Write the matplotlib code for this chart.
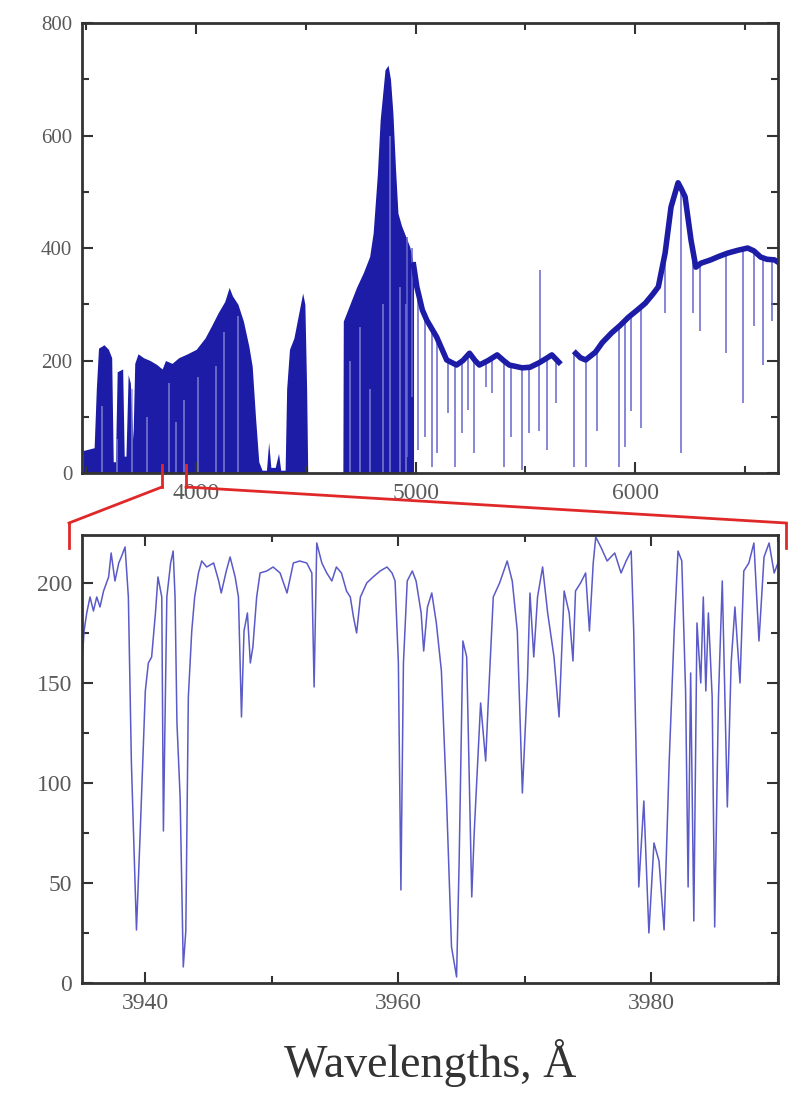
import numpy as np
import matplotlib.pyplot as plt
from matplotlib.lines import Line2D
from matplotlib.ticker import MultipleLocator

plt.rcParams['font.family'] = ['Liberation Serif', 'DejaVu Serif']

# ---- top panel: full spectrum ----
# dense blue region (blue end), upper envelope
blue_wl = [3485, 3535, 3545, 3555, 3580, 3600, 3615, 3622, 3632, 3640, 3665, 3672,
           3680, 3690, 3700, 3712, 3720, 3735, 3760, 3790, 3820, 3845, 3860, 3890,
           3920, 3960, 4000, 4040, 4070, 4100, 4130, 4150, 4165, 4190, 4215, 4240,
           4255, 4270, 4285, 4300, 4320, 4330, 4340, 4360, 4375, 4385, 4405, 4412,
           4425, 4445, 4465, 4485, 4495, 4503, 4508]
blue_flux = [40, 45, 150, 222, 228, 220, 205, 20, 20, 180, 185, 30,
             30, 175, 160, 60, 195, 212, 205, 200, 193, 185, 200, 195,
             205, 212, 220, 240, 262, 285, 305, 330, 315, 300, 270, 225,
             190, 100, 20, 5, 5, 55, 10, 10, 35, 5, 5, 150,
             220, 240, 280, 320, 300, 150, 0]

# H-beta core (dense)
hb_wl = [4668, 4670, 4700, 4730, 4761, 4790, 4806, 4825, 4838, 4860, 4874, 4885,
         4896, 4908, 4919, 4935, 4950, 4973, 4990]
hb_flux = [0, 270, 300, 330, 356, 385, 427, 530, 628, 717, 725, 700,
           640, 540, 462, 440, 425, 402, 370]

# continuum after H-beta
red1_wl = [4990, 5005, 5030, 5050, 5095, 5141, 5186, 5215, 5245, 5270,
           5290, 5330, 5371, 5400, 5426, 5485, 5520, 5562, 5600, 5620, 5652]
red1_flux = [370, 331, 290, 272, 242, 201, 192, 200, 213, 200,
             192, 200, 210, 200, 192, 187, 188, 196, 205, 210, 197]

red2_wl = [5729, 5750, 5774, 5819, 5850, 5892, 5930, 5969, 6010, 6046, 6080, 6105,
           6136, 6163, 6195, 6210, 6227, 6254, 6276, 6299, 6344, 6380, 6421, 6467,
           6512, 6540, 6571, 6600, 6634, 6650]
red2_flux = [213, 205, 201, 215, 232, 249, 262, 277, 290, 302, 318, 331,
             391, 473, 516, 505, 491, 414, 366, 373, 379, 385, 391, 396,
             400, 395, 384, 380, 379, 375]

# absorption lines: wavelength, continuum level, line bottom
abs_wl = [4960, 4982, 5009, 5041, 5073, 5095, 5145, 5177, 5209, 5236, 5267, 5322,
          5349, 5403, 5435, 5485, 5516, 5562, 5598, 5638, 5720, 5774, 5824, 5924,
          5955, 5982, 6028, 6136, 6209, 6263, 6295, 6412, 6489, 6543, 6580, 6625]
abs_top = [420, 400, 330, 280, 260, 242, 200, 195, 198, 210, 200, 198,
           205, 200, 192, 187, 188, 196, 205, 205, 215, 201, 216, 260,
           272, 282, 296, 391, 505, 395, 372, 390, 398, 397, 383, 379]
abs_bot = [28, 135, 41, 64, 11, 36, 107, 11, 71, 112, 36, 153,
           142, 11, 64, 5, 71, 75, 41, 124, 11, 11, 75, 11,
           46, 110, 80, 284, 36, 284, 253, 213, 124, 261, 192, 270]

# light streaks inside the dense regions
streak_wl = [3570, 3638, 3706, 3774, 3874, 3910, 3946, 4009, 4091, 4127, 4190,
             4700, 4745, 4790, 4850, 4883, 4930, 4955]
streak_top = [120, 60, 150, 100, 160, 90, 130, 170, 190, 250, 280,
              200, 260, 150, 300, 600, 330, 300]

# sky emission spike
spike_wl = [5566]
spike_bot = [196]
spike_top = [361]

# ---- bottom panel: zoom 3935-3990 A ----
zoom_wl = [3935.05, 3935.16, 3935.37, 3935.63, 3935.9, 3936.16, 3936.42, 3936.7, 3937.1, 3937.3,
           3937.6, 3937.9, 3938.1, 3938.4, 3938.66, 3938.9, 3939.3, 3939.6, 3940.0, 3940.24,
           3940.5, 3940.8, 3941.0, 3941.3, 3941.43, 3941.7, 3942.0, 3942.2, 3942.35, 3942.5,
           3942.75, 3943.0, 3943.2, 3943.4, 3943.67, 3943.9, 3944.2, 3944.46, 3944.85, 3945.4,
           3945.8, 3946.0, 3946.4, 3946.7, 3947.1, 3947.36, 3947.6, 3947.8, 3948.07, 3948.3,
           3948.5, 3948.8, 3949.07, 3949.6, 3950.1, 3950.65, 3951.2, 3951.7, 3952.2, 3952.76,
           3953.16, 3953.34, 3953.55, 3953.95, 3954.34, 3954.74, 3955.1, 3955.5, 3955.9, 3956.2,
           3956.45, 3956.7, 3957.0, 3957.5, 3958.0, 3958.56, 3959.1, 3959.5, 3959.74, 3960.0,
           3960.2, 3960.4, 3960.7, 3961.1, 3961.4, 3961.8, 3962.0, 3962.3, 3962.64, 3963.0,
           3963.4, 3963.8, 3964.2, 3964.6, 3964.8, 3965.1, 3965.4, 3965.8, 3966.0, 3966.5,
           3966.9, 3967.1, 3967.5, 3968.0, 3968.6, 3969.0, 3969.4, 3969.8, 3970.2, 3970.4,
           3970.7, 3971.0, 3971.4, 3971.8, 3972.3, 3972.7, 3973.1, 3973.5, 3973.8, 3974.0,
           3974.4, 3974.8, 3975.1, 3975.4, 3975.6, 3976.0, 3976.5, 3977.1, 3977.6, 3978.0,
           3978.4, 3978.6, 3979.0, 3979.4, 3979.8, 3980.2, 3980.6, 3981.0, 3981.4, 3981.8,
           3982.1, 3982.4, 3982.7, 3982.9, 3983.1, 3983.35, 3983.6, 3983.9, 3984.1, 3984.3,
           3984.5, 3984.8, 3985.0, 3985.3, 3985.6, 3986.0, 3986.3, 3986.6, 3987.0, 3987.3,
           3987.7, 3988.1, 3988.5, 3988.9, 3989.3, 3989.7, 3990.0]
zoom_flux = [165, 176, 185, 193, 186, 193, 188, 196, 203, 215,
             201, 210, 213, 218, 193, 110, 26.5, 76, 146, 160,
             163, 185, 203, 193, 76, 193, 210, 216, 193, 130,
             93, 8, 26, 143, 176, 193, 205, 211, 208, 210,
             201, 195, 206, 213, 203, 193, 133, 176, 185, 160,
             168, 193, 205, 206, 208, 205, 195, 210, 211, 210,
             205, 148, 220, 210, 205, 201, 208, 205, 196, 193,
             183, 175, 193, 200, 203, 206, 208, 205, 201, 160,
             46.5, 160, 201, 206, 201, 185, 166, 188, 195, 180,
             156, 93, 18, 3, 60, 171, 163, 43, 76, 140,
             111, 140, 193, 200, 211, 201, 176, 95, 151, 195,
             163, 193, 208, 185, 163, 133, 196, 185, 161, 196,
             200, 205, 176, 210, 223, 218, 211, 215, 205, 211,
             216, 176, 48, 91, 25, 70, 61, 26.5, 110, 176,
             216, 211, 146, 48, 155, 31, 180, 150, 193, 146,
             185, 143, 28, 143, 201, 88, 160, 188, 150, 206,
             210, 220, 171, 213, 220, 205, 210]

dark = '#1c1ca6'
light = '#6767cf'
gray = '#5a5a5a'

fig = plt.figure(figsize=(7.89, 10.99), dpi=100)
ax1 = fig.add_axes([0.104, 0.5696, 0.882, 0.4094])
ax2 = fig.add_axes([0.104, 0.1056, 0.882, 0.4076])

ax1.fill_between(blue_wl, 0, blue_flux, color=dark, lw=0)
ax1.fill_between(hb_wl, 0, hb_flux, color=dark, lw=0)
ax1.vlines(streak_wl, 0, streak_top, color='#8c8cdc', lw=1.2, alpha=0.8)
ax1.vlines(abs_wl, abs_bot, abs_top, color=light, lw=1.3, alpha=0.85)
ax1.vlines(spike_wl, spike_bot, spike_top, color=light, lw=1.3, alpha=0.85)
ax1.plot(red1_wl, red1_flux, color=dark, lw=4)
ax1.plot(red2_wl, red2_flux, color=dark, lw=4)
ax1.set_xlim(3480, 6650)
ax1.set_ylim(0, 800)
ax1.xaxis.set_major_locator(MultipleLocator(1000))
ax1.xaxis.set_minor_locator(MultipleLocator(500))
ax1.yaxis.set_major_locator(MultipleLocator(200))
ax1.yaxis.set_minor_locator(MultipleLocator(100))

ax2.plot(zoom_wl, zoom_flux, color='#5a5ac8', lw=1.1)
ax2.set_xlim(3935, 3990)
ax2.set_ylim(0, 224)
ax2.xaxis.set_major_locator(MultipleLocator(20))
ax2.xaxis.set_minor_locator(MultipleLocator(10))
ax2.yaxis.set_major_locator(MultipleLocator(50))
ax2.yaxis.set_minor_locator(MultipleLocator(25))

for ax in (ax1, ax2):
    ax.tick_params(which='both', direction='in', top=True, right=True,
                   colors='#333333', labelcolor=gray, labelsize=17, width=1.5)
    ax.tick_params(which='major', length=8, pad=7)
    ax.tick_params(which='minor', length=5)
    for s in ax.spines.values():
        s.set_linewidth(2)
        s.set_color('#333333')
ax1.tick_params(axis='y', labelsize=15)

ax2.set_xlabel('Wavelengths, Å', fontsize=33, color='#333333', labelpad=18)

# red zoom connectors (figure pixels)
red = '#e02828'
W, H = 789.0, 1099.0
segs = [[(162, 465), (162, 487)], [(162, 487), (69, 523)], [(69, 523), (69, 548)],
        [(186, 465), (186, 487)], [(186, 487), (786, 523)], [(786, 523), (786, 548)]]
for (xa, ya), (xb, yb) in segs:
    fig.add_artist(Line2D([xa / W, xb / W], [1 - ya / H, 1 - yb / H], color=red, lw=2))

plt.savefig('out.png', dpi=100)
